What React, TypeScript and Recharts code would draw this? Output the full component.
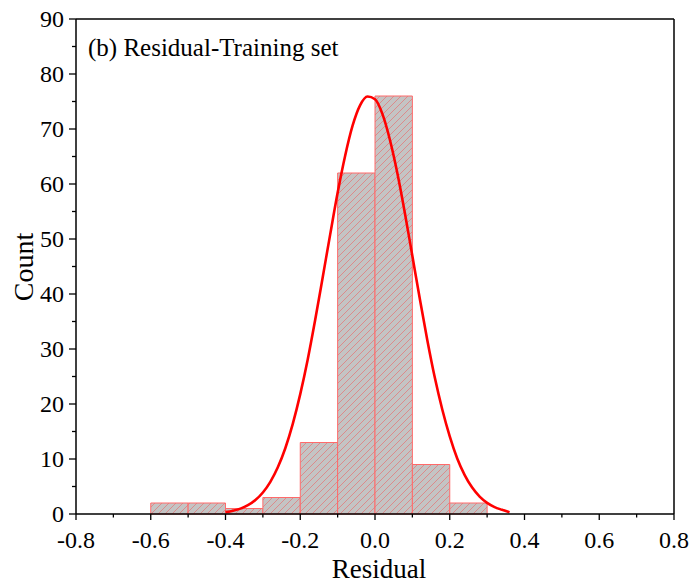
import React from "react";
import {
  ComposedChart,
  Line,
  XAxis,
  YAxis,
  ReferenceArea,
  ReferenceLine,
} from "recharts";

// histogram bins (left edge, width 0.1) and counts
const binStarts = [-0.6, -0.5, -0.4, -0.3, -0.2, -0.1, 0.0, 0.1, 0.2];
const binCounts = [2, 2, 1, 3, 13, 62, 76, 9, 2];
const binWidth = 0.1;

// fitted normal curve
const curveX = [
  -0.4, -0.38, -0.36, -0.34, -0.32, -0.3, -0.28, -0.26, -0.24, -0.22, -0.2,
  -0.18, -0.16, -0.14, -0.12, -0.1, -0.08, -0.06, -0.04, -0.02, 0.0, 0.02,
  0.04, 0.06, 0.08, 0.1, 0.12, 0.14, 0.16, 0.18, 0.2, 0.22, 0.24, 0.26, 0.28,
  0.3, 0.32, 0.34, 0.36,
];
const curveY = [
  0.34, 0.59, 0.98, 1.6, 2.54, 3.91, 5.85, 8.49, 11.96, 16.4, 21.8, 28.1, 35.3,
  43.0, 50.8, 58.4, 65.1, 70.6, 74.3, 75.9, 75.4, 72.7, 68.0, 61.9, 54.7, 46.9,
  39.1, 31.6, 24.8, 19.0, 14.1, 10.1, 7.07, 4.8, 3.17, 2.03, 1.26, 0.76, 0.3,
];

const xTicks = [
  -0.8, -0.7, -0.6, -0.5, -0.4, -0.3, -0.2, -0.1, 0, 0.1, 0.2, 0.3, 0.4, 0.5,
  0.6, 0.7, 0.8,
];
const yTicks = [
  0, 5, 10, 15, 20, 25, 30, 35, 40, 45, 50, 55, 60, 65, 70, 75, 80, 85, 90,
];

const FONT = '"Liberation Serif", "Times New Roman", serif';

const curveData = curveX.map((x, i) => ({ x, fit: curveY[i] }));

const XTick = (props: any) => {
  const { x, y, payload } = props;
  const v = payload.value as number;
  const major = Math.round(v * 10) % 2 === 0;
  return (
    <g>
      <line x1={x} x2={x} y1={y} y2={y + (major ? 6 : 3.5)} stroke="#000" strokeWidth={1.3} />
      {major && (
        <text x={x} y={y + 34} textAnchor="middle" fontSize={24} fontFamily={FONT} fill="#000">
          {v.toFixed(1)}
        </text>
      )}
    </g>
  );
};

const YTick = (props: any) => {
  const { x, y, payload } = props;
  const v = payload.value as number;
  const major = v % 10 === 0;
  return (
    <g>
      <line x1={x} x2={x - (major ? 7 : 4)} y1={y} y2={y} stroke="#000" strokeWidth={1.3} />
      {major && (
        <text x={x - 12} y={y + 8} textAnchor="end" fontSize={24} fontFamily={FONT} fill="#000">
          {v}
        </text>
      )}
    </g>
  );
};

export default function App() {
  return (
    <div style={{ position: "absolute", left: 0, top: 0, background: "#fff" }}>
      <ComposedChart
        width={692}
        height={584}
        data={curveData}
        margin={{ top: 19, right: 18, bottom: 0, left: 0 }}
      >
        <defs>
          <pattern id="hatch" patternUnits="userSpaceOnUse" width="7" height="7">
            <rect width="7" height="7" fill="#c4c4c4" />
            <path
              d="M-1,1 l2,-2 M0,7 l7,-7 M6,8 l2,-2"
              stroke="#ff3030"
              strokeOpacity={0.65}
              strokeWidth={0.6}
            />
          </pattern>
        </defs>
        <XAxis
          dataKey="x"
          type="number"
          domain={[-0.8, 0.8]}
          ticks={xTicks}
          interval={0}
          height={70}
          tickSize={0}
          tickMargin={0}
          tickLine={false}
          tick={<XTick />}
          axisLine={{ stroke: "#000", strokeWidth: 1.5 }}
          allowDataOverflow
        />
        <YAxis
          type="number"
          domain={[0, 90]}
          ticks={yTicks}
          interval={0}
          width={76}
          tickSize={0}
          tickMargin={0}
          tickLine={false}
          tick={<YTick />}
          axisLine={{ stroke: "#000", strokeWidth: 1.5 }}
        />
        {binStarts.map((b, i) => (
          <ReferenceArea
            key={b}
            x1={b}
            x2={b + binWidth}
            y1={0}
            y2={binCounts[i]}
            fill="url(#hatch)"
            fillOpacity={1}
            stroke="#ff6a6a"
            strokeWidth={1}
          />
        ))}
        <ReferenceLine y={90} stroke="#000" strokeWidth={1.5} />
        <ReferenceLine x={0.8} stroke="#000" strokeWidth={1.5} />
        <Line
          dataKey="fit"
          type="monotone"
          stroke="#ff0000"
          strokeWidth={2.6}
          dot={false}
          isAnimationActive={false}
        />
        <text x={88} y={56} fontSize={25} fontFamily={FONT} fill="#000">
          (b) Residual-Training set
        </text>
        <text x={379} y={578} textAnchor="middle" fontSize={27} fontFamily={FONT} fill="#000">
          Residual
        </text>
        <text
          x={33}
          y={267}
          textAnchor="middle"
          fontSize={28}
          fontFamily={FONT}
          fill="#000"
          transform="rotate(-90 33 267)"
        >
          Count
        </text>
      </ComposedChart>
    </div>
  );
}
